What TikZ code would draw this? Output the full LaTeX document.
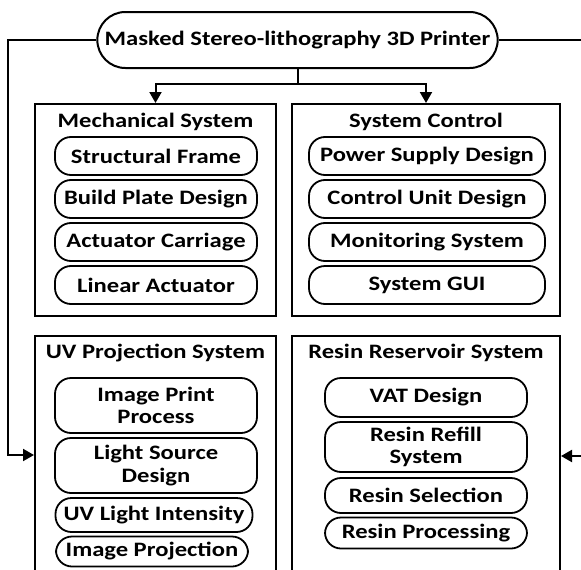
\documentclass[tikz,border=0pt]{standalone}
\usepackage{fontspec}
\setmainfont{Carlito}[FakeStretch=1.2]
\usetikzlibrary{arrows.meta,shapes.misc}

\tikzset{
  groupbox/.style={draw,line width=2pt,anchor=north},
  grouptitle/.style={anchor=north,font=\fontsize{20.5}{23}\selectfont\bfseries,inner sep=0pt},
  item/.style={draw,line width=1.8pt,rounded corners=16pt,align=center,
    font=\fontsize{20.5}{22.5}\selectfont\bfseries,inner sep=0pt},
  feed/.style={line width=2pt,-{Triangle[length=11pt,width=12pt]}}
}

\begin{document}
\begin{tikzpicture}[x=1pt,y=-1pt]
\clip (0,0) rectangle (581,570);

% top
\node[draw,line width=2pt,rounded rectangle,minimum width=407pt,minimum height=56pt,
  font=\fontsize{20.5}{23}\selectfont\bfseries] (printer) at (297.5,40) {Masked Stereo-lithography 3D Printer};

% four groups
\node[groupbox,minimum width=241pt,minimum height=212pt] (mech) at (155.5,103) {};
\node[groupbox,minimum width=268pt,minimum height=212pt] (ctrl) at (426,103) {};
\node[groupbox,minimum width=241pt,minimum height=260pt] (uv) at (155.5,335) {};
\node[groupbox,minimum width=268pt,minimum height=260pt] (resin) at (426,335) {};

\node[grouptitle] at (155.5,113) {Mechanical System};
\node[grouptitle] at (426,113) {System Control};
\node[grouptitle] at (155.5,344) {UV Projection System};
\node[grouptitle] at (426,344) {Resin Reservoir System};

% mechanical
\node[item,minimum width=202pt,minimum height=38pt] (frame) at (156,156) {Structural Frame};
\node[item,minimum width=202pt,minimum height=38pt] (plate) at (156,199) {Build Plate Design};
\node[item,minimum width=202pt,minimum height=38pt] (carriage) at (156,242) {Actuator Carriage};
\node[item,minimum width=202pt,minimum height=38pt] (actuator) at (156,285) {Linear Actuator};

% control
\node[item,minimum width=236pt,minimum height=38pt] (power) at (427,156) {Power Supply Design};
\node[item,minimum width=236pt,minimum height=38pt] (unit) at (427,199) {Control Unit Design};
\node[item,minimum width=236pt,minimum height=38pt] (monitor) at (427,242) {Monitoring System};
\node[item,minimum width=236pt,minimum height=38pt] (gui) at (427,285) {System GUI};

% uv projection
\node[item,minimum width=202pt,minimum height=55pt] (print) at (156,405.5) {Image Print\\Process};
\node[item,minimum width=202pt,minimum height=55pt] (light) at (156,465.5) {Light Source\\Design};
\node[item,minimum width=197pt,minimum height=34pt] (intensity) at (154,515) {UV Light Intensity};
\node[item,minimum width=192pt,minimum height=30pt] (projection) at (152,551.5) {Image Projection};

% resin
\node[item,minimum width=202pt,minimum height=39pt] (vat) at (426,397.5) {VAT Design};
\node[item,minimum width=202pt,minimum height=50pt] (refill) at (426,447) {Resin Refill\\System};
\node[item,minimum width=202pt,minimum height=35pt] (select) at (426,495.5) {Resin Selection};
\node[item,minimum width=202pt,minimum height=31pt] (process) at (426,533) {Resin Processing};

% connectors
\coordinate (split) at (297.5,84);
\draw[line width=2pt] (printer.south) -- (split);
\draw[feed] (split) -| (mech.north);
\draw[feed] (split) -| (ctrl.north);
\draw[feed] (printer.west) -| (8,455) -- (uv.west |- 0,455);
\draw[feed] (printer.east) -| (596,456) -- (resin.east |- 0,456);
\end{tikzpicture}
\end{document}
